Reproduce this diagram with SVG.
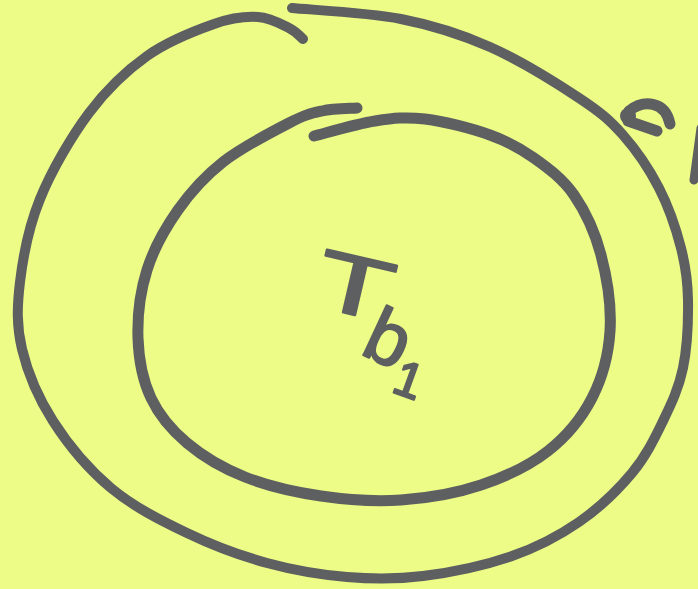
<svg xmlns="http://www.w3.org/2000/svg" width="698" height="589" viewBox="0 0 698 589">
<style>
.ink{fill:none;stroke:#5d5f60;stroke-linecap:round;stroke-linejoin:round}
.lbl{font-family:"Liberation Sans","DejaVu Sans",sans-serif;fill:#5d5f60;stroke:#5d5f60;stroke-width:2;stroke-linejoin:round}
</style>
<rect x="0" y="0" width="698" height="589" fill="#edfb87"/>
<g id="outer-boundary">
<path class="ink" stroke-width="10" d="M292,8 C310.2,9.8 368,12.5 401,19 C434,25.5 460.3,33.8 490,47 C519.7,60.2 556.8,83.3 579,98 C601.2,112.7 609.7,120 623,135 C636.3,150 649.3,169.2 659,188 C668.7,206.8 676.2,229.3 681,248 C685.8,266.7 687.7,280 688,300 C688.3,320 687.2,347.8 683,368 C678.8,388.2 671.5,403.5 663,421 C654.5,438.5 646,456.2 632,473 C618,489.8 599,508.2 579,522 C559,535.8 538,547 512,556 C486,565 450.5,572.5 423,576 C395.5,579.5 373,579.2 347,577 C321,574.8 293.7,570.3 267,563 C240.3,555.7 213,545.5 187,533 C161,520.5 133.3,506.7 111,488 C88.7,469.3 67.8,444.2 53,421 C38.2,397.8 27.5,372.2 22,349 C16.5,325.8 17,307 20,282 C23,257 28.5,227.2 40,199 C51.5,170.8 71.2,136.8 89,113 C106.8,89.2 126.2,70.8 147,56 C167.8,41.2 195.5,30.5 214,24 C232.5,17.5 245.5,16.3 258,17 C270.5,17.7 281.5,24.3 289,28 C296.5,31.7 300.7,37.2 303,39"/>
</g>
<g id="inner-boundary">
<path class="ink" stroke-width="11" d="M357,108 C351.2,108.5 333.3,108.5 322,111 C310.7,113.5 305.5,114.5 289,123 C272.5,131.5 241.5,147.5 223,162 C204.5,176.5 190.7,192 178,210 C165.3,228 153.7,248.7 147,270 C140.3,291.3 137.3,316.7 138,338 C138.7,359.3 142.8,380.5 151,398 C159.2,415.5 171.3,429.8 187,443 C202.7,456.2 222.7,468.2 245,477 C267.3,485.8 295,492.2 321,496 C347,499.8 374.3,501.8 401,500 C427.7,498.2 456.5,493.2 481,485 C505.5,476.8 529.5,465.5 548,451 C566.5,436.5 581.7,418 592,398 C602.3,378 608.5,354.8 610,331 C611.5,307.2 607,277.7 601,255 C595,232.3 585.2,211.2 574,195 C562.8,178.8 548,168 534,158 C520,148 508.2,141.5 490,135 C471.8,128.5 444.2,121.3 425,119 C405.8,116.7 393.5,118.2 375,121 C356.5,123.8 324.2,133.5 314,136"/>
</g>
<g id="label-tb1">
<text class="lbl" transform="translate(349,314) rotate(13) scale(1.5,1)" x="0" y="0" font-size="84" text-anchor="middle" stroke-width="1.5">T</text>
<text class="lbl" transform="translate(378,362) rotate(25)" x="0" y="0" font-size="76" text-anchor="middle">b</text>
<text class="lbl" transform="translate(403,396) rotate(20)" x="0" y="0" font-size="50" text-anchor="middle">1</text>
</g>
<g id="edge-marks">
<circle cx="628" cy="116" r="8" fill="#5d5f60"/>
<path class="ink" stroke-width="11" d="M629,111 C643,100 665,100 670,124"/>
<path class="ink" stroke-width="11" d="M628,121 L657,131"/>
<path class="ink" stroke-width="9" d="M701,128 L694,180"/>
</g>
</svg>
